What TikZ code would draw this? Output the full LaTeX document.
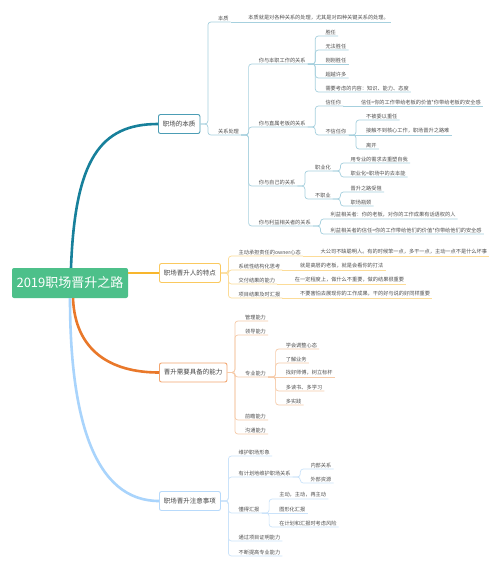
\documentclass[tikz,border=0pt]{standalone}
\usepackage{fontspec}
\setmainfont{Noto Sans CJK SC}
\usetikzlibrary{calc}
\definecolor{rootgreen}{HTML}{4DC08A}
\definecolor{mA}{HTML}{17809B}\definecolor{bA}{HTML}{4C9DB5}\definecolor{lA}{HTML}{A6D0DE}
\definecolor{mB}{HTML}{F8B62D}\definecolor{bB}{HTML}{FAC95F}\definecolor{lB}{HTML}{FCDC98}
\definecolor{mC}{HTML}{E9782A}\definecolor{bC}{HTML}{F2A56F}\definecolor{lC}{HTML}{F6CBA9}
\definecolor{mD}{HTML}{A9D4FC}\definecolor{bD}{HTML}{B8DAFB}\definecolor{lD}{HTML}{CBE3FA}
\definecolor{txt}{HTML}{505050}
\definecolor{boxtxt}{HTML}{444444}
% #1 name, #2 parent, #3 y of underline, #4 text
\newcommand\mmtopic[4]{%
  \coordinate (tmpy) at (0,#3);
  \coordinate (#1-s) at (#2-e |- tmpy);
  \node[leaf, anchor=south west] (#1) at ([xshift=17.5]#1-s) {#4};
  \coordinate (#1-e) at ([xshift=2]#1.south east);
  \draw[link] (#2-e) -- ++(7.5,0) |- (#1-e);
}
\newcommand\mmstraight[4]{%
  \coordinate (tmpy) at (0,#3);
  \coordinate (#1-s) at (#2-e |- tmpy);
  \node[leaf, anchor=south west] (#1) at ([xshift=17.5]#1-s) {#4};
  \coordinate (#1-e) at ([xshift=2]#1.south east);
  \draw[link] (#2-e) -- (#1-e);
}
\tikzset{
  leaf/.style={font=\fontsize{5.2}{6}\selectfont, text=txt, inner xsep=0pt, inner ysep=1.3pt},
  box/.style={draw, fill=white, rounded corners=2pt, line width=0.9pt, minimum height=19pt,
    inner xsep=4.5pt, font=\fontsize{6.5}{8}\selectfont, text=boxtxt},
  mainline/.style={line width=2.6pt},
}
\begin{document}
\begin{tikzpicture}[x=1pt,y=-1pt]
\useasboundingbox (0,0) rectangle (500,571);
\fill[white] (0,0) rectangle (500,571);

% root and main boxes
\node[fill=rootgreen, text=white, rounded corners=2pt, minimum width=116pt, minimum height=30pt,
  inner sep=0pt, font=\fontsize{13}{15}\selectfont] (root) at (70,283) {2019职场晋升之路};
\node[box, draw=bA, anchor=west] (b1) at (158,124) {职场的本质};
\node[box, draw=bB, anchor=west] (b2) at (159,273) {职场晋升人的特点};
\node[box, draw=bC, anchor=west] (b3) at (159,372.5) {晋升需要具备的能力};
\node[box, draw=bD, anchor=west] (b4) at (159,501) {职场晋升注意事项};
\coordinate (b1-e) at (b1.east);
\coordinate (b2-e) at (b2.east);
\coordinate (b3-e) at (b3.east);
\coordinate (b4-e) at (b4.east);

% main connectors
\draw[mainline, mA] ([xshift=1]root.north) .. controls +(4,-108) and +(-58,0) .. (b1.west);
\draw[mainline, mB] (root.east |- b2.west) -- (b2.west);
\draw[mainline, mC] ([xshift=3]root.south) .. controls +(2,52) and +(-49,0) .. (b3.west);
\draw[mainline, mD] ([xshift=0]root.south) .. controls +(0,122) and +(-64,0) .. (b4.west);

% branch 1
\begin{scope}[link/.style={draw=lA, line width=0.7pt, rounded corners=3pt}]
\mmtopic{ess}{b1}{22}{本质}
\mmstraight{essd}{ess}{22}{本质就是对各种关系的处理，尤其是对四种关键关系的处理。}
\mmtopic{rel}{b1}{135}{关系处理}
\mmtopic{r1}{rel}{64}{你与本职工作的关系}
\mmtopic{r1a}{r1}{36}{胜任}
\mmtopic{r1b}{r1}{50}{无法胜任}
\mmstraight{r1c}{r1}{64}{刚刚胜任}
\mmtopic{r1d}{r1}{78}{超越许多}
\mmtopic{r1e}{r1}{92}{需要考虑的内容：知识、能力、态度}
\mmtopic{r2}{rel}{127}{你与直属老板的关系}
\mmtopic{r2a}{r2}{106}{信任你}
\mmstraight{r2a1}{r2a}{106}{信任=你的工作带给老板的价值*你带给老板的安全感}
\mmtopic{r2b}{r2}{135}{不信任你}
\mmtopic{r2b1}{r2b}{120}{不被委以重任}
\mmstraight{r2b2}{r2b}{135}{接触不到核心工作，职场晋升之路难}
\mmtopic{r2b3}{r2b}{149}{离开}
\mmtopic{r3}{rel}{186}{你与自己的关系}
\mmtopic{r3a}{r3}{171}{职业化}
\mmtopic{r3a1}{r3a}{163}{用专业的需求去重塑自我}
\mmtopic{r3a2}{r3a}{177}{职业化=职场中的去本能}
\mmtopic{r3b}{r3}{199}{不职业}
\mmtopic{r3b1}{r3b}{192}{晋升之路受阻}
\mmtopic{r3b2}{r3b}{206}{职场瓶颈}
\mmtopic{r4}{rel}{226}{你与利益相关者的关系}
\mmtopic{r4a}{r4}{219}{利益相关者：你的老板，对你的工作成果有话语权的人}
\mmtopic{r4b}{r4}{234}{利益相关者的信任=你的工作带给他们的价值*你带给他们的安全感}
\end{scope}

% branch 2
\begin{scope}[link/.style={draw=lB, line width=0.7pt, rounded corners=3pt}]
\mmtopic{t1}{b2}{256}{主动承担责任的owner心态}
\mmstraight{t1a}{t1}{256}{大公司不缺聪明人。有的时候笨一点，多干一点，主动一点不是什么坏事}
\mmtopic{t2}{b2}{270}{系统性结构化思考}
\mmstraight{t2a}{t2}{270}{就是高层的老板，就是会看你的打法}
\mmtopic{t3}{b2}{284}{交付结果的能力}
\mmstraight{t3a}{t3}{284}{在一定程度上，做什么不重要，做的结果很重要}
\mmtopic{t4}{b2}{298}{项目结果及时汇报}
\mmstraight{t4a}{t4}{298}{不要害怕去展现你的工作成果，干的好与说的好同样重要}
\end{scope}

% branch 3
\begin{scope}[link/.style={draw=lC, line width=0.7pt, rounded corners=3pt}]
\mmtopic{c1}{b3}{321}{管理能力}
\mmtopic{c2}{b3}{335}{领导能力}
\mmtopic{c3}{b3}{377}{专业能力}
\mmtopic{c3a}{c3}{349}{学会调整心态}
\mmtopic{c3b}{c3}{363}{了解业务}
\mmstraight{c3c}{c3}{377}{找好师傅，树立标杆}
\mmtopic{c3d}{c3}{391}{多读书、多学习}
\mmtopic{c3e}{c3}{405}{多实践}
\mmtopic{c4}{b3}{420}{前瞻能力}
\mmtopic{c5}{b3}{434}{沟通能力}
\end{scope}

% branch 4
\begin{scope}[link/.style={draw=lD, line width=0.7pt, rounded corners=3pt}]
\mmtopic{d1}{b4}{456}{维护职场形象}
\mmtopic{d2}{b4}{477}{有计划地维护职场关系}
\mmtopic{d2a}{d2}{469}{内部关系}
\mmtopic{d2b}{d2}{483}{外部资源}
\mmtopic{d3}{b4}{513}{懂得汇报}
\mmtopic{d3a}{d3}{499}{主动，主动，再主动}
\mmstraight{d3b}{d3}{513}{图形化汇报}
\mmtopic{d3c}{d3}{527}{在计划和汇报时考虑风险}
\mmtopic{d4}{b4}{541}{通过项目证明能力}
\mmtopic{d5}{b4}{556}{不断提高专业能力}
\end{scope}
\end{tikzpicture}
\end{document}
